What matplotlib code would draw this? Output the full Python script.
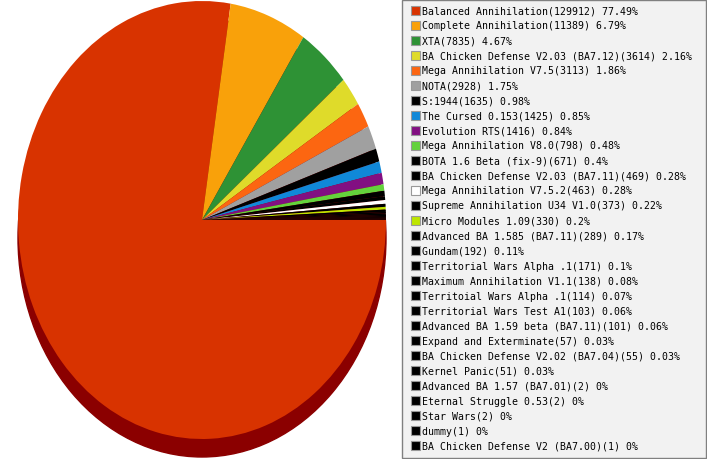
import matplotlib.pyplot as plt
from matplotlib.patches import Ellipse, Rectangle

# mod usage counts
mods = [
    'Balanced Annihilation', 'Complete Annihilation', 'XTA',
    'BA Chicken Defense V2.03 (BA7.12)', 'Mega Annihilation V7.5', 'NOTA',
    'S:1944', 'The Cursed 0.153', 'Evolution RTS', 'Mega Annihilation V8.0',
    'BOTA 1.6 Beta (fix-9)', 'BA Chicken Defense V2.03 (BA7.11)',
    'Mega Annihilation V7.5.2', 'Supreme Annihilation U34 V1.0',
    'Micro Modules 1.09', 'Advanced BA 1.585 (BA7.11)', 'Gundam',
    'Territorial Wars Alpha .1', 'Maximum Annihilation V1.1',
    'Territoial Wars Alpha .1', 'Territorial Wars Test A1',
    'Advanced BA 1.59 beta (BA7.11)', 'Expand and Exterminate',
    'BA Chicken Defense V2.02 (BA7.04)', 'Kernel Panic',
    'Advanced BA 1.57 (BA7.01)', 'Eternal Struggle 0.53', 'Star Wars',
    'dummy', 'BA Chicken Defense V2 (BA7.00)',
]
counts = [129912, 11389, 7835, 3614, 3113, 2928, 1635, 1425, 1416, 798,
          671, 469, 463, 373, 330, 289, 192, 171, 138, 114,
          103, 101, 57, 55, 51, 2, 2, 2, 1, 1]
percents = ['77.49', '6.79', '4.67', '2.16', '1.86', '1.75', '0.98', '0.85',
            '0.84', '0.48', '0.4', '0.28', '0.28', '0.22', '0.2', '0.17',
            '0.11', '0.1', '0.08', '0.07', '0.06', '0.06', '0.03', '0.03',
            '0.03', '0', '0', '0', '0', '0']
colors = ['#d83300', '#f9a10a', '#2e9235', '#dfdb2a', '#fc6611', '#a0a0a0',
          '#000000', '#1088d8', '#820f82', '#64d23c', '#000000', '#000000',
          '#ffffff', '#000000', '#bee600'] + ['#000000'] * 15

W, H = 707, 460
fig = plt.figure(figsize=(W / 100, H / 100), dpi=100)

# pie area (pixels): center (202, 221), rx 184, ry 219
cx, cy, rx, ry = 202, 221, 184, 219
ax = fig.add_axes([(cx - rx) / W, (H - cy - ry) / H, 2 * rx / W, 2 * ry / H])
ax.axis('off')

# depth of the pie
depth = 18 / ry
ax.add_patch(Ellipse((0, -depth), 2, 2, color='#8b0000', zorder=0, clip_on=False))
ax.pie(counts, colors=colors, startangle=0, counterclock=False, radius=1,
       wedgeprops=dict(linewidth=0, antialiased=True))
ax.set_xlim(-1, 1)
ax.set_ylim(-1, 1)
ax.set_aspect('auto')
for p in ax.patches:
    p.set_clip_on(False)

# legend box
lax = fig.add_axes([0, 0, 1, 1])
lax.set_xlim(0, W)
lax.set_ylim(H, 0)
lax.axis('off')
lax.add_patch(Rectangle((401.5, 0.5), 304, 458, facecolor='#f2f2f2',
                        edgecolor='#808080', linewidth=1))
for i, (m, c, pc, col) in enumerate(zip(mods, counts, percents, colors)):
    y = 11 + i * 15.03
    lax.add_patch(Rectangle((411, y - 4.5), 9, 9, facecolor=col,
                            edgecolor='#999999', linewidth=0.8))
    lax.text(422, y, f'{m}({c}) {pc}%', fontsize=7.15, family='DejaVu Sans Mono',
             va='center', ha='left', color='#000000')

fig.savefig('out.png', dpi=100)
